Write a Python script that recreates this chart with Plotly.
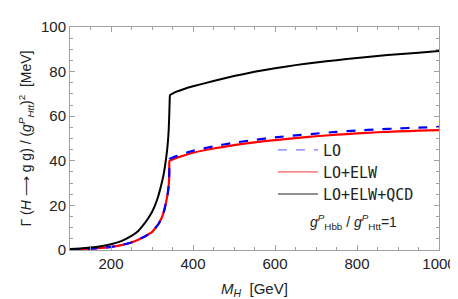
import plotly.graph_objects as go

# M_H [GeV] and Gamma [MeV]
m_black = [100, 125, 150, 175, 200, 225, 250, 265, 280, 290, 300, 308, 315, 320, 325, 329,
           332, 335, 337, 339, 340.5, 342, 343, 344,
           350, 360, 375, 400, 450, 500, 550, 600, 650, 700, 750, 800, 850, 900, 950, 1000]
g_black = [0.4, 0.7, 1.1, 1.7, 2.6, 4.0, 6.3, 8.3, 11.5, 14, 17, 20.3, 24, 27.3, 31, 34.5,
           38, 42, 45, 49, 53, 60, 66, 69.5,
           70.1, 71, 72, 73.4, 75.8, 78, 79.9, 81.5, 82.9, 84.1, 85.1, 86.1, 87, 87.8, 88.5, 89.2]

m_red = [100, 125, 150, 175, 200, 225, 250, 265, 280, 290, 300, 310, 317, 322, 326, 330,
         333, 336, 338.5, 340.5, 341.5, 342.2, 342.7,
         350, 360, 380, 400, 450, 500, 550, 600, 650, 700, 750, 800, 850, 900, 950, 1000]
g_red = [0.2, 0.4, 0.6, 0.95, 1.4, 2.2, 3.4, 4.5, 5.8, 6.9, 8.0, 10.3, 12, 13.8, 15.5, 18,
         20.3, 23, 25.5, 28.5, 31, 35, 40,
         40.6, 41.3, 42.5, 43.6, 45.5, 47, 48.3, 49.3, 50.2, 51, 51.7, 52.3, 52.8, 53.2, 53.5, 53.8]

m_blue = m_red
g_blue = [0.2, 0.4, 0.6, 0.95, 1.4, 2.2, 3.4, 4.5, 5.8, 6.9, 8.0, 10.3, 12, 13.8, 15.5, 18,
          20.3, 23, 25.5, 28.5, 31, 35, 40.8,
          41.4, 42.1, 43.4, 44.5, 46.5, 48.1, 49.4, 50.5, 51.4, 52.2, 53, 53.6, 54.1, 54.5, 54.9, 55.2]

labels = ["LO", "LO+ELW", "LO+ELW+QCD"]

fig = go.Figure()
fig.add_trace(go.Scatter(x=m_red, y=g_red, mode="lines", showlegend=False,
                         line=dict(color="#ff0000", width=2.2, shape="spline", smoothing=0.4)))
fig.add_trace(go.Scatter(x=m_blue, y=g_blue, mode="lines", showlegend=False,
                         line=dict(color="#0000ff", width=2.2, dash="dash", shape="spline", smoothing=0.4)))
fig.add_trace(go.Scatter(x=m_black, y=g_black, mode="lines", showlegend=False,
                         line=dict(color="#000000", width=2, shape="spline", smoothing=0.4)))

# legend samples, one legend box per entry to reproduce the spacing
leg_styles = [dict(color="#7777ff", width=1.3, dash="dash"),
              dict(color="#ff3333", width=1),
              dict(color="#222222", width=1)]
leg_names = ["legend", "legend2", "legend3"]
leg_y = [0.522, 0.423, 0.324]
for lab, st, ln in zip(labels, leg_styles, leg_names):
    fig.add_trace(go.Scatter(x=[None], y=[None], mode="lines", name=lab, line=st, legend=ln))

axis_common = dict(showline=True, linecolor="#a0a0a0", linewidth=1, mirror="ticks",
                   ticks="inside", tickcolor="#a0a0a0", ticklen=5, showgrid=False,
                   zeroline=False, tickfont=dict(family="Liberation Sans, Arial", size=15, color="#222"))

fig.update_xaxes(range=[100, 1000], tickvals=[200, 400, 600, 800, 1000],
                 minor=dict(dtick=50, tick0=0, ticks="inside", ticklen=3, tickcolor="#a0a0a0"),
                 title=dict(text="<i>M<sub>H</sub></i>  [GeV]", standoff=12,
                            font=dict(family="Liberation Sans, Arial", size=15, color="#222")),
                 **axis_common)
fig.update_yaxes(range=[0, 100], tickvals=[0, 20, 40, 60, 80, 100],
                 minor=dict(dtick=5, tick0=0, ticks="inside", ticklen=3, tickcolor="#a0a0a0"),
                 title=dict(text="Γ (<i>H</i> ⟶ g g) / (<i>g</i><sup><i>P</i></sup><sub><i>Htt</i></sub>)<sup>2</sup>  [MeV]",
                            standoff=6,
                            font=dict(family="Liberation Sans, Arial", size=14, color="#222")),
                 **axis_common)

fig.add_annotation(x=0.645, y=0.07, xref="paper", yref="paper", showarrow=False,
                   xanchor="left",
                   text="<i>g</i><sup><i>P</i></sup><sub>Hbb</sub> / <i>g</i><sup><i>P</i></sup><sub>Htt</sub>=1",
                   font=dict(family="Liberation Sans, Arial", size=14, color="#222"))

legend_common = dict(x=0.55, xanchor="left", yanchor="top", bgcolor="rgba(0,0,0,0)",
                     itemwidth=40,
                     font=dict(family="DejaVu Sans Mono", size=15, color="#222"))
fig.update_layout(width=458, height=299, margin=dict(l=62, r=20, t=10, b=57),
                  plot_bgcolor="white", paper_bgcolor="white",
                  legend=dict(y=leg_y[0], **legend_common),
                  legend2=dict(y=leg_y[1], **legend_common),
                  legend3=dict(y=leg_y[2], **legend_common))

fig.write_html("out.html")
